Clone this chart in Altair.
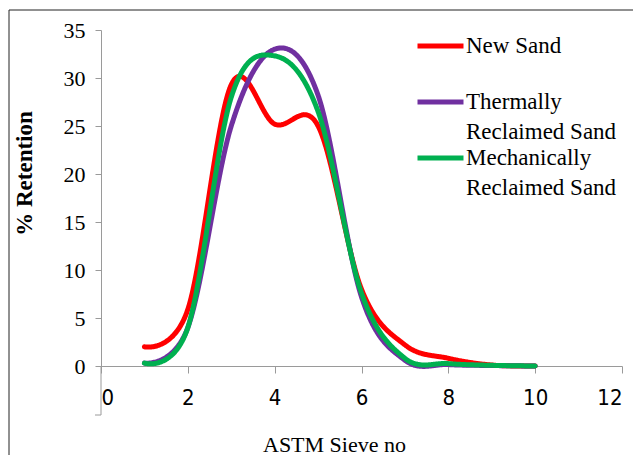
import altair as alt
import pandas as pd

# ---- data ----
sieve_no = [1, 2, 3, 4, 5, 6, 7, 8, 9, 10]
new_sand = [2.0, 5.9, 29.3, 25.2, 25.0, 8.0, 2.2, 0.8, 0.1, 0.0]
thermally = [0.3, 4.0, 25.0, 33.0, 28.2, 7.2, 0.6, 0.15, 0.05, 0.0]
mechanically = [0.3, 4.0, 28.0, 32.3, 26.5, 7.6, 0.8, 0.25, 0.07, 0.0]
series_names = ["New Sand", "Thermally Reclaimed Sand", "Mechanically Reclaimed Sand"]
series_keys = ["1", "2", "3"]          # keys for the wrapped second label line
series_colors = ["#FF0000", "#7030A0", "#00B050"]
x_ticks = [0, 2, 4, 6, 8, 10, 12]
y_ticks = [0, 5, 10, 15, 20, 25, 30, 35]

rows = []
for k, (name, key, vals) in enumerate(zip(series_names, series_keys,
                                          [new_sand, thermally, mechanically])):
    for x, y in zip(sieve_no, vals):
        rows.append({"sieve": x, "retention": y, "series": name, "line2": key, "k": k})
df = pd.DataFrame(rows)

W, H = 521, 336
AX = "#9a9a9a"
SERIF = "Liberation Serif, Times New Roman, Times, serif"
NARROW = "Liberation Sans Narrow, Arial Narrow, DejaVu Sans Condensed, sans-serif"

LEG_X, LEG_Y, ROW_PAD = 328, -7, 21

# first line of each legend label (with the coloured line symbol)
color = alt.Color(
    "series:N",
    scale=alt.Scale(domain=series_names, range=series_colors),
    legend=alt.Legend(
        title=None, orient="none", legendX=LEG_X, legendY=LEG_Y,
        symbolType="M-11.5,5.75L11.5,5.75", symbolSize=16, symbolStrokeWidth=5,
        labelFont=SERIF, labelFontSize=23, labelColor="black",
        labelBaseline="top", labelLimit=300,
        labelOffset=14, rowPadding=ROW_PAD, padding=0,
        labelExpr="datum.label == 'New Sand' ? 'New Sand' : split(datum.label, ' ')[0]",
    ),
)

# second line of the wrapped legend labels (no visible symbol)
dash = alt.StrokeDash(
    "line2:N",
    scale=alt.Scale(domain=series_keys, range=[[1, 0], [1, 0], [1, 0]]),
    legend=alt.Legend(
        title=None, orient="none", legendX=LEG_X, legendY=LEG_Y + 30,
        symbolType="M-11.5,5.75L11.5,5.75", symbolSize=16, symbolOpacity=0,
        labelFont=SERIF, labelFontSize=23, labelColor="black",
        labelBaseline="top", labelLimit=300,
        labelOffset=14, rowPadding=ROW_PAD, padding=0,
        labelExpr="datum.label == '1' ? ' ' : 'Reclaimed Sand'",
    ),
)

lines = alt.Chart(df).mark_line(
    interpolate="cardinal", strokeWidth=5, strokeCap="round", strokeJoin="round"
).encode(
    x=alt.X("sieve:Q", scale=alt.Scale(domain=[0, 12], nice=False),
            axis=alt.Axis(values=x_ticks, grid=False, domainColor=AX, tickColor=AX,
                          tickSize=7, labelFont=NARROW, labelFontSize=22,
                          labelColor="black", labelPadding=14, title="ASTM Sieve no",
                          titleFont=SERIF, titleFontSize=22, titleFontWeight="normal",
                          titleColor="black", titleX=233, titleY=85,
                          titleBaseline="alphabetic", titleAlign="center")),
    y=alt.Y("retention:Q", scale=alt.Scale(domain=[0, 35], nice=False),
            axis=alt.Axis(values=y_ticks, grid=False, domainColor=AX, tickColor=AX,
                          tickSize=6, labelFont=SERIF, labelFontSize=22,
                          labelColor="black", labelPadding=10, title="% Retention",
                          titleFont=SERIF, titleFontSize=23, titleFontWeight="bold",
                          titleColor="black", titleX=-77, titleY=143, titleAngle=270,
                          titleBaseline="middle", titleAlign="center")),
    color=color,
    strokeDash=dash,
    detail="k:N",
)

axis_ext = alt.Chart(pd.DataFrame({"x": [0]})).mark_rule(color=AX, strokeWidth=1).encode(
    x=alt.X("x:Q"), y=alt.value(H), y2=alt.value(H + 49)
)
axis_ext_tick = alt.Chart(pd.DataFrame({"x": [0]})).mark_rule(color=AX, strokeWidth=1).encode(
    x=alt.value(-6), x2=alt.value(0), y=alt.value(H + 49)
)

frame = alt.Chart(pd.DataFrame({"f": [0]})).mark_rect(
    fillOpacity=0, stroke="#222222", strokeWidth=1
).encode(
    x=alt.value(-92), x2=alt.value(W + 100), y=alt.value(-20), y2=alt.value(H + 150)
)

chart = alt.layer(frame, axis_ext, axis_ext_tick, lines).properties(
    width=W, height=H,
    autosize=alt.AutoSizeParams(type="none"),
    padding={"left": 93, "top": 22, "right": 11, "bottom": 89},
).configure_view(stroke=None)

chart.save("out.html", embed_options={"renderer": "svg", "actions": False})
